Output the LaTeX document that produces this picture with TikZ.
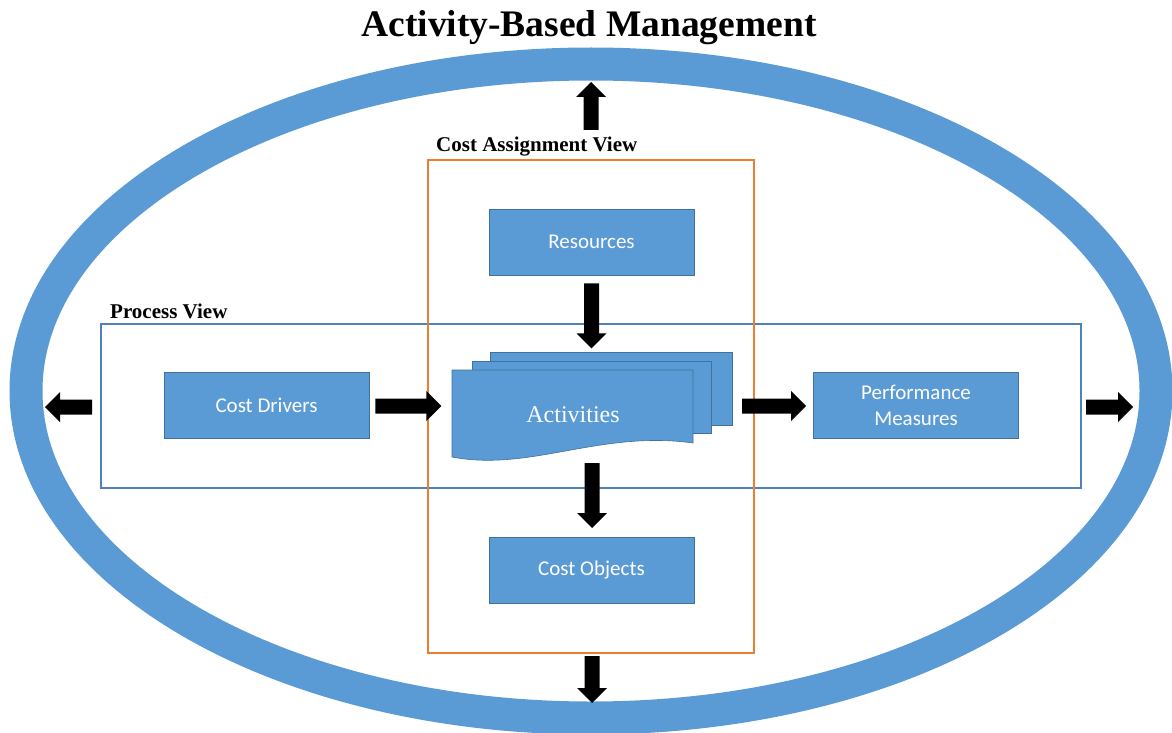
\documentclass[tikz,border=0pt]{standalone}
\usepackage{fontspec}
\setmainfont{Liberation Serif}
\newfontfamily\boxfont{Carlito}
\usetikzlibrary{calc}
\definecolor{abmblue}{HTML}{5B9BD5}
\definecolor{abmedge}{HTML}{41719C}
\definecolor{abmline}{HTML}{4F81BD}
\definecolor{abmorange}{HTML}{ED7D31}
% block arrow: tail point, direction angle, length
\newcommand\blockarr[3]{\fill[blockarrow, shift={(#1)}, rotate=#2]
  (0,-7.5) -- ({#3-15},-7.5) -- ({#3-15},-15) -- (#3,0) -- ({#3-15},15) -- ({#3-15},7.5) -- (0,7.5) -- cycle;}
\begin{document}
\begin{tikzpicture}[x=1pt,y=-1pt,
  bluebox/.style={draw=abmedge, line width=0.6pt, fill=abmblue, minimum width=205pt,
    minimum height=66pt, inner sep=0pt, text=white,
    font=\boxfont\fontsize{21}{26}\selectfont, align=center},
  docshape/.style={draw=abmedge, line width=0.6pt, fill=abmblue},
  viewlabel/.style={font=\bfseries\fontsize{21}{24}\selectfont, anchor=base west, inner sep=0pt},
  viewbox/.style={inner sep=0pt, fill=none},
  blockarrow/.style={fill=black}]
\useasboundingbox (0,0) rectangle (1172,733);
\fill[white] (0,0) rectangle (1172,733);
% outer ring
\draw[abmblue, line width=33pt] (591,391) ellipse [x radius=565, y radius=327];
% title
\node[font=\bfseries\fontsize{37.5}{40}\selectfont, anchor=base, inner sep=0pt] (title) at (589,37) {Activity-Based Management};
% views
\node[viewbox, draw=abmline, line width=1.6pt, minimum width=980pt, minimum height=164pt] (pv) at (591,406) {};
\node[viewbox, draw=abmorange, line width=2pt, minimum width=326pt, minimum height=493pt] (cav) at (591,406.5) {};
\node[viewlabel] (cavlabel) at (436,151) {Cost Assignment View};
\node[viewlabel] (pvlabel) at (110,318) {Process View};
% boxes
\node[bluebox] (res) at (591.5,242) {Resources};
\node[bluebox] (drv) at (266.5,405.5) {Cost Drivers};
\node[bluebox] (perf) at (916,405.5) {Performance\\Measures};
\node[bluebox] (obj) at (591.5,570.5) {Cost Objects};
% activities (multi-document)
\filldraw[docshape] (490,352) rectangle (732,425);
\filldraw[docshape] (472,361) rectangle (711,433);
\filldraw[docshape] (452,370) -- (693,370) -- (693,443) .. controls (600,430) and (530,472) .. (452,457) -- cycle;
\node[text=white, font=\fontsize{24}{28}\selectfont] (act) at (573,415) {Activities};
% arrows
\blockarr{591,130}{90}{48}
\blockarr{$(res.south)+(0,8)$}{270}{65}
\blockarr{$(drv.east)+(6,0.5)$}{0}{66}
\blockarr{742,406}{0}{64}
\blockarr{592,463}{270}{65}
\blockarr{$(cav.south)+(1,2)$}{270}{47}
\blockarr{92,407}{180}{47}
\blockarr{1086,407}{0}{47}
\end{tikzpicture}
\end{document}
